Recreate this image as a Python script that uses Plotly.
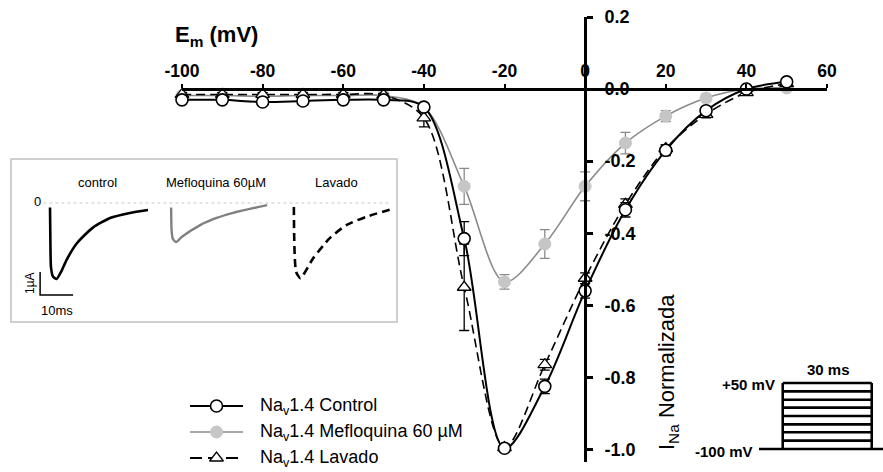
import plotly.graph_objects as go

W, H = 883, 472

# ---------------- data ----------------
voltage_mV = [-100, -90, -80, -70, -60, -50, -40, -30, -20, -10, 0, 10, 20, 30, 40, 50]
control = [-0.03, -0.03, -0.036, -0.033, -0.03, -0.03, -0.05, -0.415, -0.997, -0.825, -0.56, -0.335, -0.17, -0.06, 0.0, 0.02]
control_err = [0.005, 0.005, 0.005, 0.005, 0.005, 0.005, 0.01, 0.047, 0.01, 0.02, 0.02, 0.02, 0.015, 0.01, 0.005, 0.005]
meflo = [-0.018, -0.018, -0.02, -0.018, -0.018, -0.018, -0.05, -0.27, -0.535, -0.43, -0.27, -0.15, -0.075, -0.025, 0.0, 0.003]
meflo_err = [0.005, 0.005, 0.005, 0.005, 0.005, 0.005, 0.01, 0.05, 0.02, 0.04, 0.04, 0.03, 0.015, 0.01, 0.005, 0.005]
lavado = [-0.015, -0.015, -0.015, -0.015, -0.015, -0.017, -0.08, -0.55, -0.995, -0.765, -0.525, -0.32, -0.165, -0.07, -0.01, 0.015]
lavado_err = [0.005, 0.005, 0.005, 0.005, 0.005, 0.005, 0.025, 0.12, 0.01, 0.015, 0.015, 0.015, 0.01, 0.01, 0.005, 0.005]

x_ticks = [-100, -80, -60, -40, -20, 0, 20, 40, 60]
y_ticks = [0.2, 0.0, -0.2, -0.4, -0.6, -0.8, -1.0]

series_names = ["Na<sub>v</sub>1.4 Control", "Na<sub>v</sub>1.4 Mefloquina 60 µM", "Na<sub>v</sub>1.4 Lavado"]

# inset current traces (time ms from trace start, current µA)
ctrl_t = [0, 0.1, 0.3, 0.9, 2.0, 3.5, 5.0, 8.2, 13.0, 18.2, 24.2, 29.7]
ctrl_I = [-0.2, -1.5, -2.8, -3.2, -3.3, -2.95, -2.48, -1.74, -1.07, -0.65, -0.43, -0.3]
meflo_t = [0, 0.15, 0.5, 1.5, 3.2, 8.8, 13.8, 18.8, 29.1]
meflo_I = [-0.2, -1.2, -1.55, -1.7, -1.48, -0.96, -0.65, -0.43, -0.09]
lav_t = [0, 0.7, 2.0, 5.8, 10.8, 15.9, 21.9, 29.5]
lav_I = [-0.17, -3.0, -3.27, -2.41, -1.54, -0.96, -0.6, -0.27]
inset_titles = ["control", "Mefloquina 60µM", "Lavado"]
scale_bar_ms = 10
scale_bar_uA = 1

# voltage protocol
holding_mV = -100
step_levels_mV = [-81, -62, -44, -25, -6, 12, 31, 50]
pulse_ms = 30

# ---------------- helpers ----------------
def px(p):
    return p / W

def py(p):
    return 1 - p / H

FONT = "Liberation Sans, Arial, sans-serif"

fig = go.Figure()

# ---------------- main I-V plot ----------------
fig.add_trace(go.Scatter(
    x=voltage_mV, y=meflo, mode="lines+markers", name=series_names[1],
    line=dict(color="#8a8a8a", width=1.6, shape="spline", smoothing=0.9),
    marker=dict(symbol="circle", size=12, color="#c6c6c6", line=dict(color="#c6c6c6", width=1)),
    error_y=dict(type="data", array=meflo_err, color="#8a8a8a", thickness=1.3, width=5),
    cliponaxis=False, showlegend=False, xaxis="x", yaxis="y"))
fig.add_trace(go.Scatter(
    x=voltage_mV, y=lavado, mode="lines+markers", name=series_names[2],
    line=dict(color="black", width=1.6, dash="9px,5px", shape="spline", smoothing=0.9),
    marker=dict(symbol="triangle-up", size=12, color="white", line=dict(color="black", width=1.3)),
    error_y=dict(type="data", array=lavado_err, color="black", thickness=1.3, width=5),
    cliponaxis=False, showlegend=False, xaxis="x", yaxis="y"))
fig.add_trace(go.Scatter(
    x=voltage_mV, y=control, mode="lines+markers", name=series_names[0],
    line=dict(color="black", width=2, shape="spline", smoothing=0.9),
    marker=dict(symbol="circle", size=12, color="white", line=dict(color="black", width=1.6)),
    error_y=dict(type="data", array=control_err, color="black", thickness=1.3, width=5),
    cliponaxis=False, showlegend=False, xaxis="x", yaxis="y"))

# ---------------- inset traces ----------------
offsets_ms = [0, 36.7, 73.9]
fig.add_trace(go.Scatter(x=[-2, 103], y=[0, 0], mode="lines",
                         line=dict(color="#c8c8c8", width=1, dash="dot"),
                         showlegend=False, xaxis="x2", yaxis="y2"))
fig.add_trace(go.Scatter(x=[t + offsets_ms[0] for t in ctrl_t], y=ctrl_I, mode="lines",
                         line=dict(color="black", width=2.6, shape="spline", smoothing=0.6),
                         showlegend=False, xaxis="x2", yaxis="y2"))
fig.add_trace(go.Scatter(x=[t + offsets_ms[1] for t in meflo_t], y=meflo_I, mode="lines",
                         line=dict(color="#808080", width=2.4, shape="spline", smoothing=0.6),
                         showlegend=False, xaxis="x2", yaxis="y2"))
fig.add_trace(go.Scatter(x=[t + offsets_ms[2] for t in lav_t], y=lav_I, mode="lines",
                         line=dict(color="black", width=2.6, dash="8px,5px", shape="spline", smoothing=0.6),
                         showlegend=False, xaxis="x2", yaxis="y2"))
# scale bar
sb_t0, sb_i0 = -3, -4
fig.add_trace(go.Scatter(x=[sb_t0, sb_t0, sb_t0 + scale_bar_ms],
                         y=[sb_i0 + scale_bar_uA, sb_i0, sb_i0], mode="lines",
                         line=dict(color="black", width=1.5),
                         showlegend=False, xaxis="x2", yaxis="y2"))

# ---------------- voltage protocol ----------------
proto_x = [-8, 34, None, 0, 0, None, pulse_ms, pulse_ms]
proto_y = [holding_mV, holding_mV, None, holding_mV, step_levels_mV[-1], None, holding_mV, step_levels_mV[-1]]
for lv in step_levels_mV:
    proto_x += [None, 0, pulse_ms]
    proto_y += [None, lv, lv]
fig.add_trace(go.Scatter(x=proto_x, y=proto_y, mode="lines",
                         line=dict(color="black", width=2.6),
                         showlegend=False, xaxis="x3", yaxis="y3", cliponaxis=False))

# ---------------- manual legend ----------------
leg_styles = [
    dict(line=dict(color="black", width=2), marker=dict(symbol="circle", size=12, color="white", line=dict(color="black", width=1.6))),
    dict(line=dict(color="#a8a8a8", width=2), marker=dict(symbol="circle", size=12, color="#c6c6c6", line=dict(color="#c6c6c6", width=1))),
    dict(line=dict(color="black", width=2, dash="12px,6px"), marker=dict(symbol="triangle-up", size=12, color="white", line=dict(color="black", width=1.3))),
]
for row, st in enumerate(leg_styles):
    fig.add_trace(go.Scatter(x=[0, 1], y=[row, row], mode="lines", line=st["line"],
                             showlegend=False, xaxis="x4", yaxis="y4", cliponaxis=False))
    fig.add_trace(go.Scatter(x=[0.5], y=[row], mode="markers", marker=st["marker"],
                             showlegend=False, xaxis="x4", yaxis="y4", cliponaxis=False))

# ---------------- annotations ----------------
def note(text, x, y, size, xanchor="center", angle=0, bold=False):
    return dict(text=f"<b>{text}</b>" if bold else text, x=px(x), y=py(y),
                xref="paper", yref="paper", showarrow=False,
                xanchor=xanchor, yanchor="middle", textangle=angle,
                font=dict(size=size, family=FONT, color="black"))

ann = []
ann.append(note("E<sub>m</sub> (mV)", 216, 36, 22, bold=True))
ann.append(note("I<sub>Na</sub> Normalizada", 668, 372, 22, angle=-90))
for txt, cx in zip(inset_titles, [97, 216, 336]):
    ann.append(note(txt, cx, 183, 13))
ann.append(note("0", 37, 201, 13))
ann.append(note("1µA", 30, 283, 12, angle=-90))
ann.append(note("10ms", 57, 310, 13))
ann.append(note("+50 mV", 777, 384, 15, xanchor="right", bold=True))
ann.append(note("-100 mV", 755, 451, 15, xanchor="right", bold=True))
ann.append(note("30 ms", 828, 369, 15, bold=True))
for row, name in enumerate(series_names):
    ann.append(note(name, 258, 406 + 26 * row, 18, xanchor="left"))

y0_px = 89.1
fig.update_layout(
    width=W, height=H, margin=dict(l=0, r=0, t=0, b=0, pad=0, autoexpand=False),
    paper_bgcolor="white", plot_bgcolor="rgba(0,0,0,0)",
    font=dict(family=FONT, color="black"),
    showlegend=False,
    annotations=ann,
    xaxis=dict(domain=[px(182), px(827)], range=[-100, 60], anchor="free", position=py(y0_px),
               side="top", showline=True, linecolor="black", linewidth=2.5,
               ticks="outside", ticklen=4, tickwidth=2, tickcolor="black",
               tickvals=x_ticks, ticktext=[str(v) for v in x_ticks],
               tickfont=dict(size=17.5, family=FONT, weight="bold", color="black"),
               showgrid=False, zeroline=False, automargin=False),
    yaxis=dict(domain=[py(462), py(17)], range=[-1.035, 0.2], anchor="free", position=px(585.1),
               side="right", showline=True, linecolor="black", linewidth=2.5,
               ticks="outside", ticklen=6, tickwidth=2.5, tickcolor="black",
               tickvals=y_ticks, ticktext=[f"{v:.1f}" for v in y_ticks], ticklabelstandoff=8,
               tickfont=dict(size=18, family=FONT, weight="bold", color="black"),
               showgrid=False, zeroline=False, automargin=False),
    xaxis2=dict(domain=[px(12), px(396)], range=[-11.52, 104.85], anchor="y2",
                showline=True, mirror=True, linecolor="#cfcfcf", linewidth=1.5,
                showticklabels=False, ticks="", showgrid=False, zeroline=False, automargin=False),
    yaxis2=dict(domain=[py(321), py(160)], range=[-5.13, 1.87], anchor="x2",
                showline=True, mirror=True, linecolor="#cfcfcf", linewidth=1.5,
                showticklabels=False, ticks="", showgrid=False, zeroline=False, automargin=False),
    xaxis3=dict(domain=[px(759), px(883)], range=[-8, 33.8], anchor="y3", visible=False, automargin=False),
    yaxis3=dict(domain=[py(460), py(370)], range=[-125, 79.5], anchor="x3", visible=False, automargin=False),
    xaxis4=dict(domain=[px(190), px(243)], range=[0, 1], anchor="y4", visible=False, automargin=False),
    yaxis4=dict(domain=[py(468), py(396)], range=[2.3846, -0.3846], anchor="x4", visible=False, automargin=False),
)

fig.write_html("out.html")
